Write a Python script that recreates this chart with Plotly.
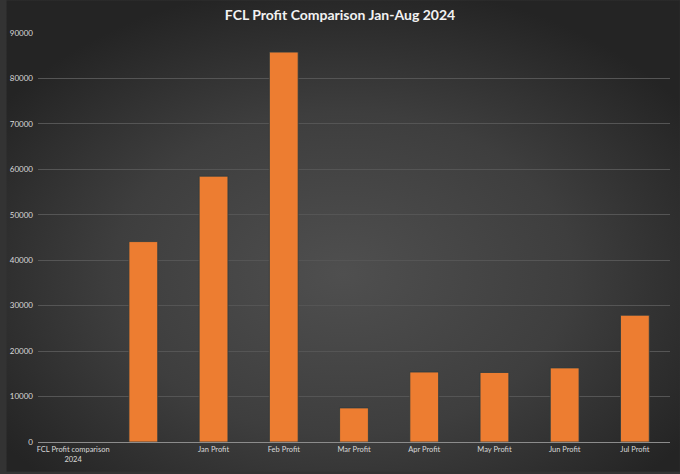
import base64
import plotly.graph_objects as go

categories = ["FCL Profit comparison<br>2024", " ", "Jan Profit", "Feb Profit", "Mar Profit",
              "Apr Profit", "May Profit", "Jun Profit", "Jul Profit"]
profits = [None, 44100, 58500, 85800, 7500, 15400, 15300, 16300, 27900]
y_ticks = [0, 10000, 20000, 30000, 40000, 50000, 60000, 70000, 80000, 90000]

W, H = 680, 474
ml, mr, mt, mb = 32, 10, 33, 30
pw, ph = W - ml - mr, H - mt - mb

svg = f'''<svg xmlns="http://www.w3.org/2000/svg" width="{W}" height="{H}" viewBox="0 0 {W} {H}" preserveAspectRatio="none">
<defs><radialGradient id="g" cx="0.5" cy="0.58" r="0.62" gradientUnits="objectBoundingBox">
<stop offset="0" stop-color="#4f4f4f"/><stop offset="0.55" stop-color="#3e3e3e"/><stop offset="1" stop-color="#242424"/>
</radialGradient></defs><rect width="{W}" height="{H}" fill="url(#g)"/></svg>'''
bg_src = "data:image/svg+xml;base64," + base64.b64encode(svg.encode()).decode()

fig = go.Figure(go.Bar(
    x=categories, y=profits,
    marker=dict(color="#ED7D31", line=dict(color="#2b3b40", width=0.8)),
    hoverinfo="x+y",
))

fig.update_layout(
    width=W, height=H,
    margin=dict(l=ml, r=mr, t=mt, b=mb),
    paper_bgcolor="#333333", plot_bgcolor="rgba(0,0,0,0)",
    bargap=0.59,
    showlegend=False,
    font=dict(family="Lato, 'Open Sans', sans-serif", color="#d9d9d9", size=8),
    title=dict(text="<b>FCL Profit Comparison Jan-Aug 2024</b>", x=0.5, xanchor="center",
               y=1 - 15 / H, yanchor="middle",
               font=dict(family="Lato, 'Open Sans', sans-serif", size=14, color="#f2f2f2")),
    images=[dict(source=bg_src, xref="paper", yref="paper",
                 x=-ml / pw, y=1 + mt / ph, sizex=W / pw, sizey=H / ph,
                 xanchor="left", yanchor="top", sizing="stretch", layer="below")],
    xaxis=dict(showgrid=False, showline=True, linecolor="#8c8c8c", linewidth=1.2,
               ticks="", tickfont=dict(size=7.5, color="#d9d9d9")),
    yaxis=dict(range=[0, 90000], tickvals=y_ticks, ticktext=[str(v) for v in y_ticks],
               showgrid=True, gridcolor="#555555", gridwidth=1, zeroline=False,
               showline=False, ticks="", ticklen=0, ticklabelstandoff=4,
               tickfont=dict(size=8, color="#d9d9d9")),
)

fig.write_html("out.html", config={"displayModeBar": False},
               post_script="document.body.style.margin='0';")
